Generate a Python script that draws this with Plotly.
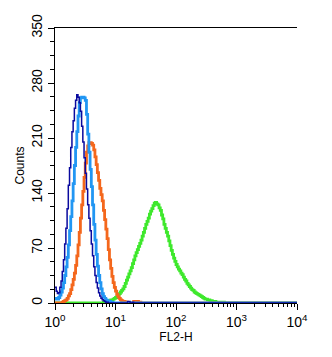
import plotly.graph_objects as go
import numpy as np

# Histogram channels: 200 bins of 0.02 decade from 10^0 to 10^4
n_bins = 200
bin_width_log = 0.02

navy_counts = [20, 15, 12, 13, 20, 28, 40, 55, 75, 95, 120, 150, 172, 198, 218, 232, 248, 258, 265, 262,
               255, 244, 225, 205, 185, 165, 145, 125, 108, 92, 75, 60, 46, 35, 26, 19, 13, 9, 6, 4,
               3, 2, 1, 1, 0, 0, 0, 0, 0, 0, 0, 0, 0, 0, 0, 0, 0, 0, 0, 0, 2, 2, 0, 0, 1]
blue_counts = [6, 5, 5, 7, 10, 14, 19, 26, 35, 46, 58, 74, 92, 110, 130, 152, 175, 198, 218, 238,
               255, 261, 262, 262, 261, 258, 240, 215, 192, 170, 148, 125, 100, 80, 62, 47, 35, 26, 18, 12,
               8, 6, 4, 3, 2, 2, 1, 1]
orange_counts = [0] * 6 + [1, 2, 3, 4, 6, 9, 12, 17, 23, 30, 38, 48, 60, 74, 90, 108, 125, 142, 160, 178,
                           192, 200, 204, 204, 203, 201, 195, 186, 176, 166, 156, 146, 138, 130, 118, 106, 94, 82, 68, 55,
                           44, 34, 26, 20, 15, 11, 8, 6, 4, 3, 2, 2, 1, 1, 0, 0, 0, 0, 0, 2, 0, 0, 2, 0, 1]
green_counts = [0] * 40 + [1, 1, 2, 2, 3, 3, 4, 4, 5, 6, 7, 8, 10, 12, 14, 16, 18, 21, 25, 29,
                           33, 37, 41, 45, 50, 55, 60, 64, 68, 72, 76, 80, 85, 90, 95, 100, 104, 108, 113, 117,
                           120, 124, 127, 128, 126, 125, 121, 118, 112, 107, 100, 95, 90, 85, 79, 73, 67, 62, 57, 53,
                           49, 46, 43, 41, 38, 36, 33, 30, 28, 25, 23, 21, 19, 17, 16, 14, 13, 12, 11, 10,
                           9, 8, 7, 6, 5, 5, 4, 4, 3, 3, 2, 2, 2, 1, 1, 1, 1, 1, 1, 1]

x_tick_vals = [1, 10, 100, 1000, 10000]
x_tick_text = ["10<sup>0</sup>", "10<sup>1</sup>", "10<sup>2</sup>", "10<sup>3</sup>", "10<sup>4</sup>"]
y_tick_vals = [0, 70, 140, 210, 280, 350]

edges = 10 ** (np.arange(n_bins + 1) * bin_width_log)


def step_series(counts):
    c = list(counts) + [0] * (n_bins - len(counts))
    xs, ys = [], []
    for i in range(n_bins):
        xs += [edges[i], edges[i + 1]]
        ys += [c[i], c[i]]
    return xs, ys


fig = go.Figure()
series = [
    (green_counts, "#3ee82c", 2.8),
    (orange_counts, "#f4671c", 2.8),
    (blue_counts, "#2196f3", 2.8),
    (navy_counts, "#0a0a9e", 1.5),
]
for counts, color, w in series:
    xs, ys = step_series(counts)
    fig.add_trace(go.Scatter(x=xs, y=ys, mode="lines", line=dict(color=color, width=w),
                             showlegend=False, hoverinfo="skip"))

minor_x = [m * 10 ** d for d in range(4) for m in range(2, 10)]

# page body has an 8px default margin, so the figure is sized to fit the window
fig.update_layout(
    width=324, height=349,
    margin=dict(l=47, r=35, t=20, b=54),
    paper_bgcolor="white", plot_bgcolor="white",
    font=dict(family="Liberation Sans, Arial, sans-serif", size=12, color="black"),
    xaxis=dict(
        type="log", range=[0, 4], automargin=False,
        tickmode="array", tickvals=x_tick_vals, ticktext=x_tick_text,
        ticks="outside", ticklen=6, tickwidth=1, tickcolor="black",
        showline=True, linecolor="black", linewidth=1.2, mirror=True,
        showgrid=False, zeroline=False,
        minor=dict(tickmode="array", tickvals=minor_x, ticks="outside", ticklen=3, tickcolor="black"),
        title=dict(text="FL2-H", font=dict(size=12), standoff=0),
        tickfont=dict(size=14),
    ),
    yaxis=dict(
        range=[0, 350], automargin=False,
        tickmode="array", tickvals=y_tick_vals,
        ticks="outside", ticklen=6, tickwidth=1, tickcolor="black",
        showline=True, linecolor="black", linewidth=1.2, mirror=False,
        showgrid=False, zeroline=False,
        tickangle=-90,
        minor=dict(dtick=17.5, tick0=0, ticks="outside", ticklen=4, tickcolor="black"),
        title=dict(text="Counts", font=dict(size=12), standoff=2),
        tickfont=dict(size=14),
    ),
)

fig.write_html("out.html")
